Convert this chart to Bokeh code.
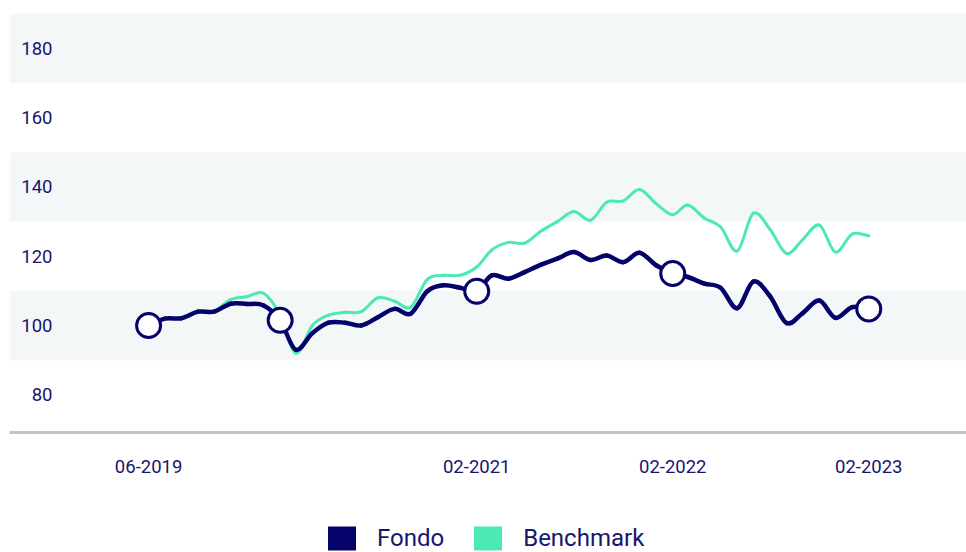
import pandas as pd
from bokeh.plotting import figure
from bokeh.layouts import column
from bokeh.models import (Range1d, BoxAnnotation, Label, FixedTicker,
                          DatetimeTickFormatter, Legend, LegendItem)
from bokeh.embed import file_html
from bokeh.resources import INLINE

# ---------------- data ----------------
start_month = "2019-06-01"
fondo = [100, 102, 102.1, 104, 104, 106.3, 106.2, 105.8, 101.5, 93, 97.8, 100.8,
         100.8, 100, 102.4, 104.8, 103.4, 109.9, 111.6, 110.9, 109.9, 114.5, 113.5, 115.4,
         117.6, 119.3, 121.2, 118.9, 120.2, 118.3, 121, 117.4, 115, 114, 112.1, 110.9,
         105, 112.7, 108.5, 100.7, 103.6, 107.2, 102.2, 105.3, 104.8]
benchmark = [100, 102, 102.2, 104, 104.2, 107.5, 108.3, 109.3, 103, 92, 100, 103,
             103.8, 104, 108, 107, 105.3, 113.3, 114.5, 114.5, 116.9, 121.8, 124, 123.8,
             127.3, 130, 132.9, 130.4, 135.6, 136, 139.3, 135.2, 132, 134.8, 131, 128.5,
             121.5, 132.4, 127.8, 120.8, 124.8, 129, 121.2, 126.4, 125.9]
marker_months = ["2019-06-01", "2020-02-01", "2021-02-01", "2022-02-01", "2023-02-01"]
xtick_months = ["2019-06-01", "2021-02-01", "2022-02-01", "2023-02-01"]
ytick_values = [80, 100, 120, 140, 160, 180]
band_ranges = [(90, 110), (130, 150), (170, 190)]
series_names = ["Fondo", "Benchmark"]

# ---------------- styles ----------------
NAVY = "#03036a"
TEXT = "#16166c"
MINT = "#4ce8b6"
BAND = "#f3f7f8"
FONT = "Roboto"

dates = pd.date_range(start=start_month, periods=len(fondo), freq="MS")
series_f = pd.Series(fondo, index=dates)
mdates = pd.to_datetime(marker_months)
mvals = [series_f[d] for d in mdates]


def spline_segments(xs, ys):
    """Catmull-Rom style smooth curve segments (rendering style of a spline line)."""
    xv = [x.value / 1e6 for x in xs]
    n = len(xv)
    seg = dict(x0=[], y0=[], x1=[], y1=[], cx0=[], cy0=[], cx1=[], cy1=[])
    for i in range(n - 1):
        a = max(i - 1, 0)
        d = min(i + 2, n - 1)
        seg["x0"].append(xv[i]); seg["y0"].append(ys[i])
        seg["x1"].append(xv[i + 1]); seg["y1"].append(ys[i + 1])
        seg["cx0"].append(xv[i] + (xv[i + 1] - xv[a]) / 6)
        seg["cy0"].append(ys[i] + (ys[i + 1] - ys[a]) / 6)
        seg["cx1"].append(xv[i + 1] - (xv[d] - xv[i]) / 6)
        seg["cy1"].append(ys[i + 1] - (ys[d] - ys[i]) / 6)
    return seg


p = figure(width=966, height=490, x_axis_type="datetime", y_axis_location=None,
           output_backend="svg", toolbar_location=None,
           x_range=Range1d(pd.Timestamp("2018-09-15"), pd.Timestamp("2023-08-02")),
           y_range=Range1d(69.1, 190.1),
           min_border_left=9, min_border_right=0, min_border_top=13, min_border_bottom=58)
p.outline_line_color = None
p.xgrid.visible = False
p.ygrid.visible = False
p.background_fill_color = "white"
p.border_fill_color = "white"

for lo, hi in band_ranges:
    p.add_layout(BoxAnnotation(bottom=lo, top=hi, fill_color=BAND, fill_alpha=1,
                               line_color=None, level="underlay"))

for v in ytick_values:
    p.add_layout(Label(x=43, y=v, x_units="screen", text=str(v), text_align="right",
                       text_baseline="middle", text_font=FONT, text_font_size="18.5px",
                       text_color=TEXT))

p.bezier(line_color=MINT, line_width=3, line_cap="round",
         **spline_segments(dates, benchmark))
p.bezier(line_color=NAVY, line_width=4.5, line_cap="round",
         **spline_segments(dates, fondo))
p.scatter(mdates, mvals, size=24, fill_color="white", line_color=NAVY, line_width=3)

ax = p.xaxis[0]
ax.ticker = FixedTicker(ticks=[pd.Timestamp(d).value / 1e6 for d in xtick_months])
fmt = "%m-%Y"
ax.formatter = DatetimeTickFormatter(milliseconds=fmt, seconds=fmt, minsec=fmt, minutes=fmt,
                                     hourmin=fmt, hours=fmt, days=fmt, months=fmt, years=fmt)
ax.axis_line_color = "#c4c4c4"
ax.axis_line_width = 3
ax.major_tick_line_color = None
ax.minor_tick_line_color = None
ax.major_tick_out = 0
ax.major_tick_in = 0
ax.minor_tick_out = 0
ax.major_label_standoff = 27
ax.major_label_text_font = FONT
ax.major_label_text_font_size = "18.5px"
ax.major_label_text_color = TEXT

# ---------------- legend strip ----------------
lg = figure(width=966, height=62, output_backend="svg", toolbar_location=None,
            x_axis_location=None, y_axis_location=None,
            x_range=Range1d(0, 1), y_range=Range1d(0, 1),
            min_border_left=0, min_border_right=0, min_border_top=0, min_border_bottom=0)
lg.outline_line_color = None
lg.xgrid.visible = False
lg.ygrid.visible = False
# zero-area swatch renderers (only used for the legend glyphs)
r_f = lg.quad(left=[0], right=[0], top=[0], bottom=[0], fill_color=NAVY, line_color=None)
r_b = lg.quad(left=[0], right=[0], top=[0], bottom=[0], fill_color=MINT, line_color=None)
legend = Legend(items=[LegendItem(label=series_names[0], renderers=[r_f]),
                       LegendItem(label=series_names[1], renderers=[r_b])],
                location=(315, -1), orientation="horizontal",
                glyph_width=35, glyph_height=30, label_standoff=18, spacing=26,
                label_height=30,
                padding=0, margin=0, border_line_color=None, background_fill_alpha=0,
                label_text_font=FONT, label_text_font_size="24px",
                label_text_color=TEXT, label_text_baseline="middle")
lg.add_layout(legend)

layout = column(p, lg, spacing=0)
open("out.html", "w").write(file_html(layout, INLINE))
